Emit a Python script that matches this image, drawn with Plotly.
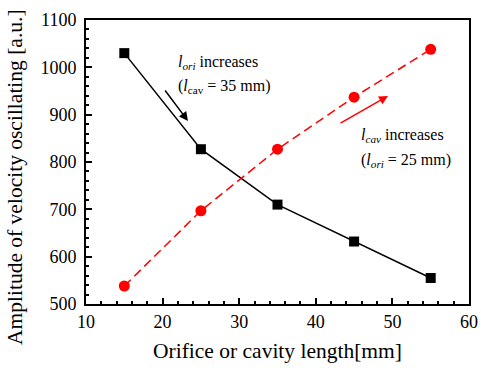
import plotly.graph_objects as go

x_len = [15, 25, 35, 45, 55]
amp_ori = [1030, 827, 710, 632, 555]
amp_cav = [538, 697, 827, 937, 1038]

x_ticks = [10, 20, 30, 40, 50, 60]
y_ticks = [500, 600, 700, 800, 900, 1000, 1100]

FONT = "Liberation Serif, Times New Roman, serif"

W, H = 481, 368
PL, PR, PT, PB = 86, 469, 20, 304  # plot-area edges in window pixels

fig = go.Figure()
fig.add_trace(go.Scatter(x=x_len, y=amp_ori, mode="lines+markers",
                         line=dict(color="black", width=1.5),
                         marker=dict(symbol="square", size=10, color="black"),
                         showlegend=False))
fig.add_trace(go.Scatter(x=x_len, y=amp_cav, mode="lines+markers",
                         line=dict(color="#ff0000", width=1.5, dash="9px,5px"),
                         marker=dict(symbol="circle", size=11, color="#ff0000"),
                         showlegend=False))

axis_common = dict(showline=True, linecolor="black", linewidth=2, mirror=True,
                   ticks="inside", ticklen=6, tickwidth=1.5, tickcolor="black",
                   showgrid=False, zeroline=False, automargin=False,
                   tickfont=dict(family=FONT, size=18, color="black"))

fig.update_xaxes(range=[10, 60], tickvals=x_ticks,
                 minor=dict(ticks="inside", ticklen=3, tickwidth=1.5, dtick=2, tickcolor="black"),
                 title=dict(text="Orifice or cavity length[mm]", font=dict(family=FONT, size=21.5, color="black"), standoff=12),
                 **axis_common)
fig.update_yaxes(range=[500, 1100], tickvals=y_ticks, ticklabelstandoff=4,
                 minor=dict(ticks="inside", ticklen=3, tickwidth=1.5, dtick=20, tickcolor="black"),
                 **axis_common)

pw, ph = PR - PL, PB - PT
def px(xp):
    return (xp - PL) / pw
def py(yp):
    return (PB - yp) / ph

# y-axis title (placed as rotated annotation to match reference position)
fig.add_annotation(xref="paper", yref="paper", x=px(15), y=py(177),
                   text="Amplitude of velocity oscillating [a.u.]", textangle=-90,
                   showarrow=False, xanchor="center", yanchor="middle",
                   font=dict(family=FONT, size=21.5, color="black"))

ann_font = dict(family=FONT, size=16, color="black")
fig.add_annotation(xref="paper", yref="paper", x=px(176), y=py(62),
                   text="<i>l</i><sub><i>ori</i></sub> increases", showarrow=False,
                   xanchor="left", yanchor="middle", font=ann_font)
fig.add_annotation(xref="paper", yref="paper", x=px(176), y=py(86),
                   text="(<i>l</i><sub>cav</sub> = 35 mm)", showarrow=False,
                   xanchor="left", yanchor="middle", font=ann_font)
fig.add_annotation(xref="paper", yref="paper", x=px(359), y=py(135),
                   text="<i>l</i><sub><i>cav</i></sub> increases", showarrow=False,
                   xanchor="left", yanchor="middle", font=ann_font)
fig.add_annotation(xref="paper", yref="paper", x=px(359), y=py(160),
                   text="(<i>l</i><sub><i>ori</i></sub> = 25 mm)", showarrow=False,
                   xanchor="left", yanchor="middle", font=ann_font)

# arrows (offsets in pixels from head to tail)
fig.add_annotation(xref="paper", yref="paper", x=px(188), y=py(121),
                   ax=-24, ay=-32, axref="pixel", ayref="pixel",
                   text="", showarrow=True, arrowhead=2, arrowsize=1.2, arrowwidth=1.5, arrowcolor="black")
fig.add_annotation(xref="paper", yref="paper", x=px(388), y=py(96),
                   ax=-49, ay=28, axref="pixel", ayref="pixel",
                   text="", showarrow=True, arrowhead=2, arrowsize=1.2, arrowwidth=1.5, arrowcolor="#ff0000")

fig.update_layout(width=W, height=H,
                  margin=dict(l=PL, r=W - PR, t=PT, b=H - PB),
                  plot_bgcolor="white", paper_bgcolor="white")

fig.write_html("out.html", config={"displayModeBar": False},
               post_script="document.body.style.margin='0';document.body.style.overflow='hidden';")
